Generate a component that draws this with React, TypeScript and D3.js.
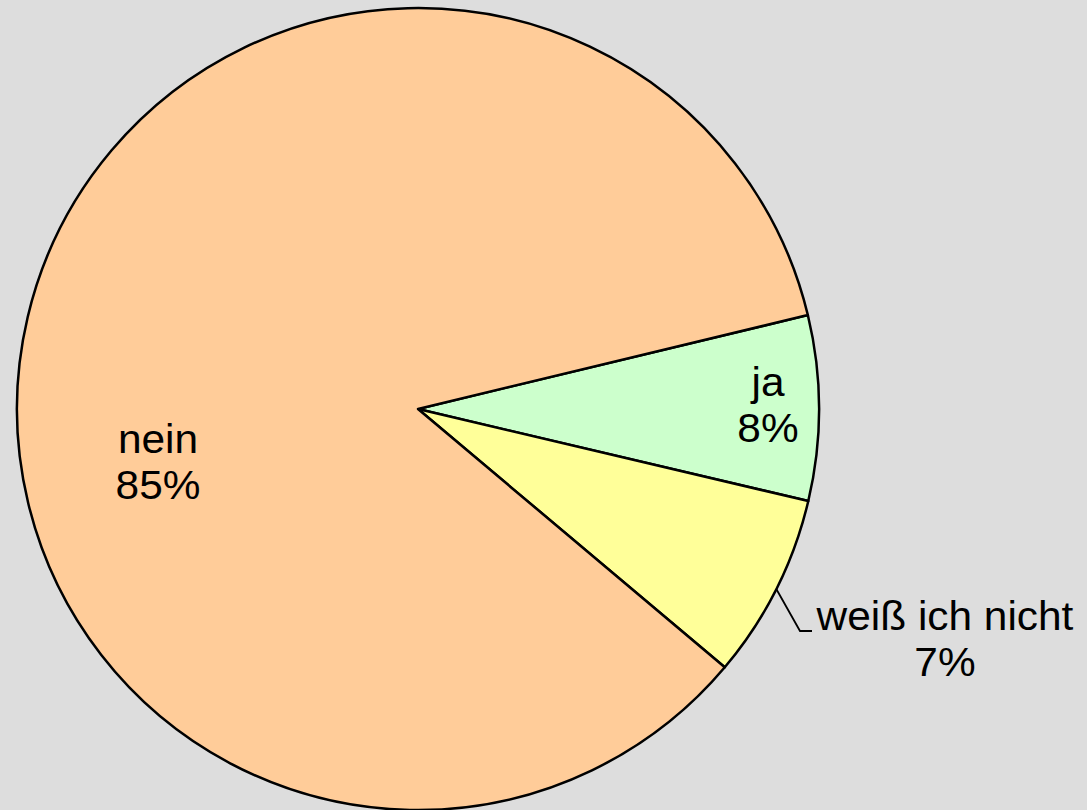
import { useEffect, useRef } from "react"
import * as d3 from "d3"

// Slice order as drawn clockwise, starting from the "ja" slice
const categories = ["ja", "weiß ich nicht", "nein"]
const values = [7.45, 7.45, 85.1]
const percentLabels = ["8%", "7%", "85%"]
const colors = ["#CCFFCC", "#FFFF99", "#FFCC99"]

const App = () => {
  const svgRef = useRef<SVGSVGElement>(null)

  useEffect(() => {
    if (!svgRef.current) return
    const svg = d3.select(svgRef.current)
    svg.selectAll("*").remove()

    const width = 1087
    const height = 810
    const cx = 418
    const cy = 409
    const radius = 401
    const startAngle = (76.45 * Math.PI) / 180

    svg.append("rect").attr("width", width).attr("height", height).attr("fill", "#DDDDDD")

    const pie = d3
      .pie<number>()
      .sort(null)
      .value((d) => d)
      .startAngle(startAngle)
      .endAngle(startAngle + 2 * Math.PI)

    const arcs = pie(values)
    const arc = d3.arc<d3.PieArcDatum<number>>().innerRadius(0).outerRadius(radius)

    const g = svg.append("g").attr("transform", `translate(${cx},${cy})`)

    g.selectAll("path")
      .data(arcs)
      .join("path")
      .attr("d", arc)
      .attr("fill", (_, i) => colors[i])
      .attr("stroke", "black")
      .attr("stroke-width", 2.5)
      .attr("stroke-linejoin", "round")

    // label placement (relative to pie centre)
    const labelPos = [
      { x: 350, y: -13 }, // ja
      { x: 527, y: 221 }, // weiß ich nicht
      { x: -260, y: 44 }, // nein
    ]

    // leader line for "weiß ich nicht"
    const mid = (arcs[1].startAngle + arcs[1].endAngle) / 2
    const p0 = [Math.sin(mid) * radius, -Math.cos(mid) * radius]
    g.append("polyline")
      .attr("points", [p0, [382, 222], [394, 222]].map((p) => p.join(",")).join(" "))
      .attr("fill", "none")
      .attr("stroke", "black")
      .attr("stroke-width", 1.8)

    const labels = g
      .selectAll("g.label")
      .data(arcs)
      .join("g")
      .attr("class", "label")
      .attr("transform", (_, i) => `translate(${labelPos[i].x},${labelPos[i].y}) scale(1.06,1)`)

    labels.each(function (_, i) {
      const t = d3
        .select(this)
        .append("text")
        .attr("text-anchor", "middle")
        .attr("font-family", "'Liberation Sans', Arial, sans-serif")
        .attr("font-size", 40)
        .attr("fill", "black")
      t.append("tspan").attr("x", 0).attr("y", 0).text(categories[i])
      t.append("tspan").attr("x", 0).attr("y", 46).text(percentLabels[i])
    })
  }, [])

  return (
    <svg
      ref={svgRef}
      width={1087}
      height={810}
      style={{ position: "absolute", left: 0, top: 0, display: "block" }}
    />
  )
}

export default App
